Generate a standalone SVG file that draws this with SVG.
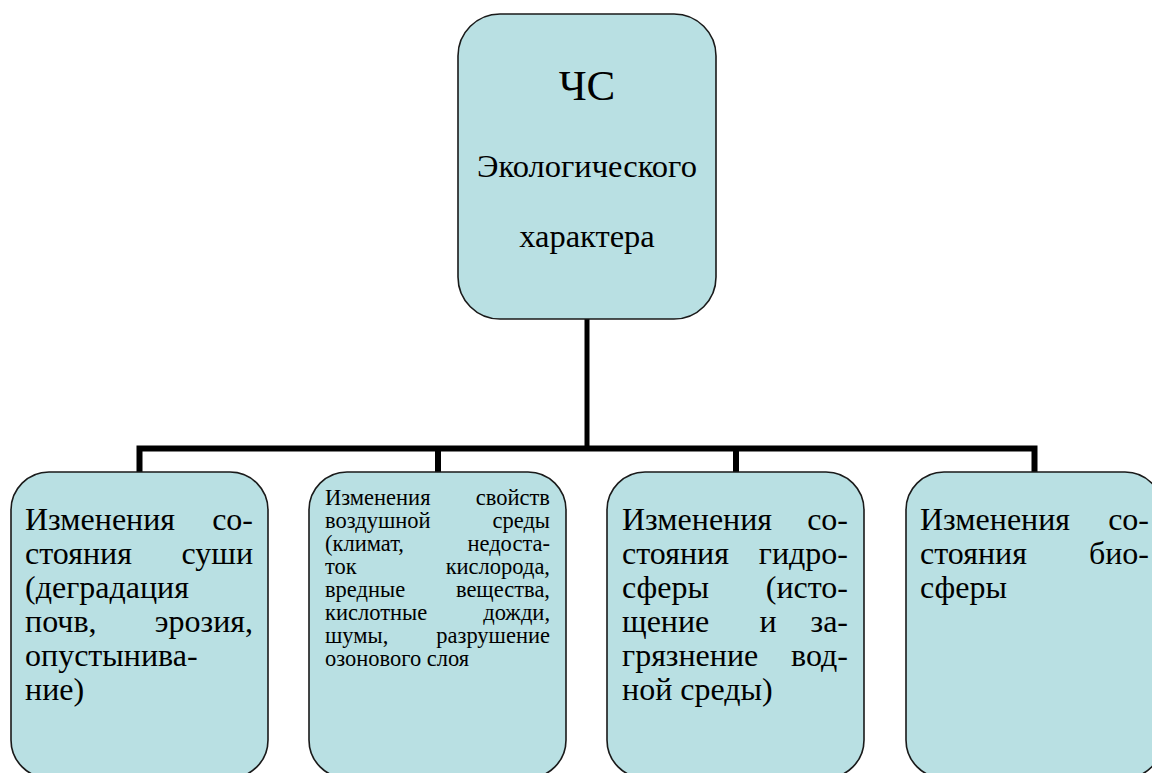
<svg xmlns="http://www.w3.org/2000/svg" width="1152" height="773" viewBox="0 0 1152 773">
<style>
.box{fill:#B9E0E3;stroke:#1a1a1a;stroke-width:1.6}
.t{font-family:"Liberation Serif","Times New Roman","DejaVu Serif",serif;fill:#000}
.big{font-size:32px}
.small{font-size:22.5px}
.e{text-anchor:end}
.m{text-anchor:middle}
.conn{fill:none;stroke:#000;stroke-width:6;stroke-linecap:butt;stroke-linejoin:miter}
</style>
<rect width="1152" height="773" fill="#fff"/>
<g id="connectors">
<line class="conn" x1="587" y1="319" x2="587" y2="448" style="stroke-width:5"/>
<path class="conn" d="M139.5,472 V448.5 H1034.5 V472"/>
<line class="conn" x1="438" y1="448" x2="438" y2="472"/>
<line class="conn" x1="736" y1="448" x2="736" y2="472"/>
</g>
<g id="root">
<rect class="box" x="458" y="14" width="258" height="305" rx="42"/>
<text class="t m" x="587" y="100" font-size="43">ЧС</text>
<text class="t m" x="587" y="177" font-size="32.5">Экологического</text>
<text class="t m" x="587" y="247" font-size="32.5">характера</text>
</g>
<g id="land">
<rect class="box" x="11" y="472" width="257" height="306" rx="38"/>
<g class="t big">
<text x="25" y="530">Изменения</text><text class="e" x="253" y="530">со-</text>
<text x="25" y="564">стояния</text><text class="e" x="253" y="564">суши</text>
<text x="25" y="598">(деградация</text>
<text x="25" y="632">почв,</text><text class="e" x="253" y="632">эрозия,</text>
<text x="25" y="666">опустынива-</text>
<text x="25" y="700">ние)</text>
</g>
</g>
<g id="air">
<rect class="box" x="309" y="472" width="257" height="306" rx="38"/>
<g class="t small">
<text x="325" y="505">Изменения</text><text class="e" x="550" y="505">свойств</text>
<text x="325" y="528">воздушной</text><text class="e" x="550" y="528">среды</text>
<text x="325" y="551">(климат,</text><text class="e" x="550" y="551">недоста-</text>
<text x="325" y="574">ток</text><text class="e" x="550" y="574">кислорода,</text>
<text x="325" y="597">вредные</text><text class="e" x="550" y="597">вещества,</text>
<text x="325" y="620">кислотные</text><text class="e" x="550" y="620">дожди,</text>
<text x="325" y="643">шумы,</text><text class="e" x="550" y="643">разрушение</text>
<text x="325" y="666">озонового слоя</text>
</g>
</g>
<g id="water">
<rect class="box" x="607" y="472" width="257" height="306" rx="38"/>
<g class="t big">
<text x="622" y="530">Изменения</text><text class="e" x="848" y="530">со-</text>
<text x="622" y="564">стояния</text><text class="e" x="848" y="564">гидро-</text>
<text x="622" y="598">сферы</text><text class="e" x="848" y="598">(исто-</text>
<text x="622" y="632">щение</text><text class="m" x="768" y="632">и</text><text class="e" x="848" y="632">за-</text>
<text x="622" y="666">грязнение</text><text class="e" x="848" y="666">вод-</text>
<text x="622" y="700">ной среды)</text>
</g>
</g>
<g id="bio">
<rect class="box" x="906" y="472" width="257" height="306" rx="38"/>
<g class="t big">
<text x="920" y="530">Изменения</text><text class="e" x="1149" y="530">со-</text>
<text x="920" y="564">стояния</text><text class="e" x="1149" y="564">био-</text>
<text x="920" y="598">сферы</text>
</g>
</g>
</svg>
